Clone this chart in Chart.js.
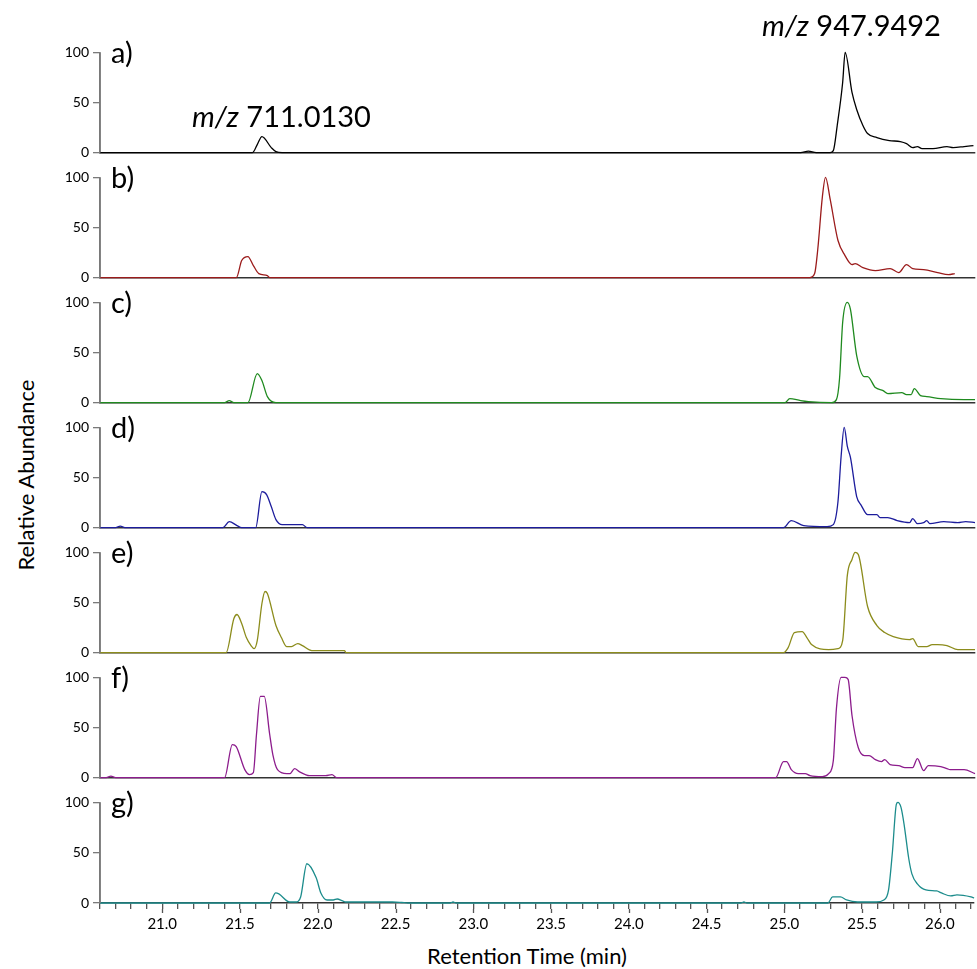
<!DOCTYPE html>
<html>
<head>
<meta charset="utf-8">
<title>Extracted ion chromatograms</title>
<script src="https://cdn.jsdelivr.net/npm/chart.js@4/dist/chart.umd.min.js"></script>
<style>
  body { margin: 0; background: #fff; font-family: Lato, 'Open Sans', sans-serif; }
  #wrap { position: relative; width: 977px; height: 969px; overflow: hidden; }
  #wrap canvas { position: absolute; left: 0; }
  .panel-label { position: absolute; left: 111px; font-size: 29px; line-height: 1; color: #000; z-index: 2; }
  .mz { position: absolute; font-size: 29px; line-height: 1; color: #000; z-index: 2; white-space: nowrap; }
  .y-title { position: absolute; left: 25px; top: 475px; font-size: 22px; white-space: nowrap; color: #000;
             transform: translate(-50%, -50%) rotate(-90deg); }
  .x-title { position: absolute; left: 527px; top: 955px; font-size: 22px; white-space: nowrap; color: #000;
             transform: translate(-50%, -50%); }
</style>
</head>
<body>
<div id="wrap">
  <div class="y-title">Relative Abundance</div>
  <div class="x-title">Retention Time (min)</div>
  <div class="mz" style="left:192px; top:101px;"><i>m/z</i> 711.0130</div>
  <div class="mz" style="left:762px; top:10px;"><i>m/z</i> 947.9492</div>
</div>
<script>
// retention time (min) and relative abundance (%)
const timeA = [20.6, 21.58, 21.61, 21.64, 21.70, 21.73, 21.77, 25.10, 25.15, 25.20, 25.29, 25.31, 25.335, 25.37, 25.386, 25.43, 25.46, 25.50, 25.53, 25.59, 25.67, 25.74, 25.78, 25.82, 25.85, 25.88, 25.95, 26.04, 26.08, 26.15, 26.21];
const abundA = [0, 0, 8, 16, 5, 1, 0, 0, 1.5, 0, 0, 2, 27, 70, 100, 60, 43, 27, 19, 15, 12, 11, 9, 5, 6, 4, 4, 6, 5, 6, 7];

const timeB = [20.6, 21.476, 21.51, 21.55, 21.585, 21.62, 21.675, 21.69, 25.16, 25.19, 25.21, 25.24, 25.26, 25.29, 25.34, 25.385, 25.43, 25.45, 25.50, 25.58, 25.675, 25.73, 25.78, 25.82, 25.89, 25.98, 26.05, 26.09];
const abundB = [0, 0, 17, 21, 12, 4, 2, 0, 0, 4, 28, 81, 100, 78, 37, 22, 13, 14, 10, 7, 9, 5, 13, 9, 8, 5, 3, 4];

const timeC = [20.6, 21.40, 21.43, 21.46, 21.55, 21.61, 21.64, 21.675, 21.73, 25.0, 25.03, 25.10, 25.15, 25.30, 25.33, 25.35, 25.37, 25.40, 25.42, 25.46, 25.51, 25.53, 25.58, 25.63, 25.66, 25.75, 25.78, 25.81, 25.83, 25.87, 25.91, 26.0, 26.15, 26.22];
const abundC = [0, 0, 2, 0, 0, 29, 22, 6, 0, 0, 4, 2, 1, 0, 3, 24, 80, 100, 93, 47, 26, 26, 15, 12, 9, 10, 8, 8, 14, 7, 6, 4, 3, 3];

const timeD = [20.6, 20.70, 20.73, 20.76, 21.39, 21.43, 21.48, 21.51, 21.60, 21.64, 21.67, 21.70, 21.73, 21.77, 21.90, 21.93, 24.99, 25.04, 25.12, 25.27, 25.31, 25.34, 25.36, 25.38, 25.40, 25.42, 25.46, 25.49, 25.53, 25.59, 25.61, 25.66, 25.72, 25.80, 25.82, 25.85, 25.89, 25.91, 25.93, 26.02, 26.11, 26.16, 26.22];
const abundD = [0, 0, 1.5, 0, 0, 6, 2, 0, 0, 36, 33, 21, 8, 3, 3, 0, 0, 7, 2, 1, 3, 26, 71, 100, 81, 70, 31, 22, 13, 13, 10, 10, 7, 5, 9, 4, 5, 7, 4, 6, 5, 6, 5];

const timeE = [20.6, 21.41, 21.46, 21.48, 21.51, 21.54, 21.57, 21.59, 21.61, 21.64, 21.66, 21.675, 21.73, 21.765, 21.80, 21.83, 21.87, 21.90, 21.96, 22.17, 22.18, 24.99, 25.02, 25.06, 25.11, 25.14, 25.17, 25.28, 25.34, 25.37, 25.40, 25.43, 25.45, 25.47, 25.53, 25.59, 25.64, 25.695, 25.80, 25.82, 25.855, 25.91, 25.945, 25.98, 26.04, 26.11, 26.22];
const abundE = [0, 0, 34, 38, 29, 15, 7, 4, 12, 49, 61, 59, 27, 15, 6, 6, 9, 7, 2, 2, 0, 0, 5, 20, 21, 15, 8, 3, 4, 12, 77, 93, 100, 98, 46, 27, 20, 16, 13, 14, 6, 6, 8, 8, 7, 3, 3];

const timeF = [20.6, 20.64, 20.67, 20.70, 21.40, 21.45, 21.475, 21.53, 21.56, 21.585, 21.605, 21.63, 21.655, 21.69, 21.71, 21.74, 21.80, 21.82, 21.85, 21.88, 21.945, 22.05, 22.09, 22.12, 24.94, 24.99, 25.01, 25.04, 25.085, 25.13, 25.16, 25.24, 25.28, 25.31, 25.33, 25.36, 25.385, 25.405, 25.43, 25.47, 25.51, 25.54, 25.58, 25.62, 25.64, 25.675, 25.73, 25.77, 25.82, 25.85, 25.89, 25.92, 26.0, 26.04, 26.06, 26.15, 26.22];
const abundF = [0, 0, 1.5, 0, 0, 33, 31, 8, 3, 5, 43, 81, 81, 43, 23, 8, 4, 4, 9, 6, 2, 2, 3, 0, 0, 16, 16, 8, 4, 4, 2, 1, 4, 17, 69, 100, 100, 98, 62, 30, 22, 22, 18, 16, 18, 13, 12, 10, 10, 19, 7, 12, 11, 9, 8, 8, 4];

const timeG = [20.6, 21.69, 21.73, 21.75, 21.82, 21.86, 21.89, 21.93, 21.99, 22.02, 22.06, 22.10, 22.125, 22.16, 22.18, 22.48, 22.54, 22.58, 22.85, 22.87, 22.89, 24.72, 24.74, 24.76, 25.28, 25.31, 25.36, 25.40, 25.47, 25.59, 25.64, 25.67, 25.695, 25.72, 25.73, 25.75, 25.77, 25.80, 25.82, 25.855, 25.91, 25.98, 26.01, 26.07, 26.11, 26.20, 26.22];
const abundG = [0, 0, 10, 9, 1, 1, 6, 39, 25, 10, 3, 3, 4, 2, 1, 1, 0.5, 0, 0, 1, 0, 0, 1, 0, 0, 6, 6, 3, 1, 1, 3, 13, 51, 98, 100, 95, 78, 44, 29, 19, 13, 12, 10, 7, 8, 6, 5];

const panelNames = ['a)', 'b)', 'c)', 'd)', 'e)', 'f)', 'g)'];
const panelTimes = [timeA, timeB, timeC, timeD, timeE, timeF, timeG];
const panelAbund = [abundA, abundB, abundC, abundD, abundE, abundF, abundG];
const panelColors = ['#000000', '#9b1b1b', '#1f8a1f', '#1c1c9c', '#8c8c1c', '#8c1c8c', '#1c8c8c'];

const yTicks = [0, 50, 100];
const xTickLabels = ['21.0', '21.5', '22.0', '22.5', '23.0', '23.5', '24.0', '24.5', '25.0', '25.5', '26.0'];
const xMin = 20.6;
const xMax = 26.22;

const wrap = document.getElementById('wrap');
const pitch = 125;

// vertical axis line, plus longer ticks at the labelled times
const axisExtras = {
  id: 'axisExtras',
  afterDraw(chart) {
    const ctx = chart.ctx;
    const y = chart.scales.y;
    ctx.save();
    ctx.strokeStyle = '#7a7a7a';
    ctx.lineWidth = 1.6;
    ctx.beginPath();
    ctx.moveTo(y.right, y.top);
    ctx.lineTo(y.right, y.bottom);
    ctx.stroke();

    const scale = chart.scales.x;
    if (scale.options.ticks.display) {
      ctx.strokeStyle = '#555';
      ctx.lineWidth = 1.3;
      xTickLabels.forEach(lbl => {
        const px = Math.round(scale.getPixelForValue(parseFloat(lbl))) + 0.5;
        ctx.beginPath();
        ctx.moveTo(px, scale.top + 6);
        ctx.lineTo(px, scale.top + 10);
        ctx.stroke();
      });
    }
    ctx.restore();
  }
};

panelNames.forEach((name, i) => {
  const isLast = i === panelNames.length - 1;
  const canvas = document.createElement('canvas');
  canvas.width = 977;
  canvas.height = isLast ? 179 : 125;
  canvas.style.top = (40 + pitch * i) + 'px';
  wrap.appendChild(canvas);

  const label = document.createElement('div');
  label.className = 'panel-label';
  label.style.top = (37 + pitch * i) + 'px';
  label.textContent = name;
  wrap.appendChild(label);

  const points = panelTimes[i].map((t, k) => ({ x: t, y: panelAbund[i][k] }));

  new Chart(canvas.getContext('2d'), {
    type: 'line',
    data: {
      datasets: [{
        data: points,
        borderColor: panelColors[i],
        borderWidth: 1.3,
        pointRadius: 0,
        cubicInterpolationMode: 'monotone',
        clip: false
      }]
    },
    options: {
      responsive: false,
      animation: false,
      devicePixelRatio: 1,
      layout: { padding: { top: 12, bottom: isLast ? 36 : 11, left: 0, right: 2 } },
      plugins: { legend: { display: false }, tooltip: { enabled: false } },
      scales: {
        x: {
          type: 'linear',
          min: xMin,
          max: xMax,
          afterFit: (s) => { s.height = isLast ? 30 : 0; },
          afterBuildTicks: (s) => {
            // minor ticks every 0.1 min
            const ticks = [];
            for (let v = 206; v <= 262; v++) ticks.push({ value: v / 10 });
            s.ticks = ticks;
          },
          border: { display: true, color: '#333', width: 1.6 },
          grid: {
            drawOnChartArea: false,
            drawTicks: isLast,
            tickLength: 6,
            tickColor: '#555',
            lineWidth: 1.3
          },
          ticks: {
            display: isLast,
            autoSkip: false,
            maxRotation: 0,
            padding: 6,
            color: '#000',
            font: { family: 'Lato', size: 15 },
            callback: (v) => {
              const s = v.toFixed(1);
              return xTickLabels.includes(s) ? s : '';
            }
          }
        },
        y: {
          min: 0,
          max: 100,
          afterFit: (s) => { s.width = 100; },
          afterBuildTicks: (s) => { s.ticks = yTicks.map(v => ({ value: v })); },
          border: { display: true, color: '#7a7a7a', width: 1.6 },
          grid: { drawOnChartArea: false, tickLength: 7, tickColor: '#7a7a7a', lineWidth: 1.3 },
          ticks: { padding: 4, color: '#000', font: { family: 'Lato', size: 14 } }
        }
      }
    },
    plugins: [axisExtras]
  });
});
</script>
</body>
</html>
